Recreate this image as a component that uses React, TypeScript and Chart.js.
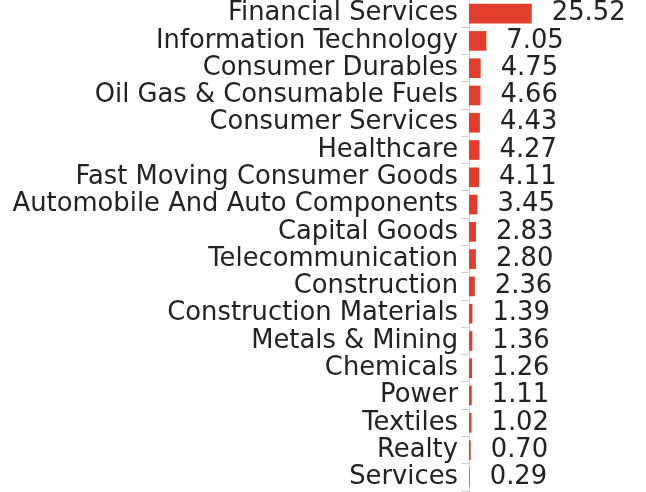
import React, { useEffect, useRef } from "react";
import { Chart, registerables } from "chart.js";

Chart.register(...registerables);

const categories = [
  "Financial Services",
  "Information Technology",
  "Consumer Durables",
  "Oil Gas & Consumable Fuels",
  "Consumer Services",
  "Healthcare",
  "Fast Moving Consumer Goods",
  "Automobile And Auto Components",
  "Capital Goods",
  "Telecommunication",
  "Construction",
  "Construction Materials",
  "Metals & Mining",
  "Chemicals",
  "Power",
  "Textiles",
  "Realty",
  "Services",
];

const values = [
  25.52, 7.05, 4.75, 4.66, 4.43, 4.27, 4.11, 3.45, 2.83, 2.8, 2.36, 1.39, 1.36,
  1.26, 1.11, 1.02, 0.7, 0.29,
];

const FONT = "'DejaVu Sans', sans-serif";
const FONT_SIZE = 25.8;
const FONT_WEIGHT = "normal";

const valueLabels = {
  id: "valueLabels",
  afterDatasetsDraw(chart: any) {
    const ctx = chart.ctx;
    const meta = chart.getDatasetMeta(0);
    ctx.save();
    ctx.font = `${FONT_WEIGHT} ${FONT_SIZE}px ${FONT}`;
    ctx.fillStyle = "#222";
    ctx.textAlign = "left";
    ctx.textBaseline = "middle";
    meta.data.forEach((bar: any, i: number) => {
      ctx.fillText(values[i].toFixed(2), bar.x + 20, bar.y);
    });
    ctx.restore();
  },
};

export default function App() {
  const ref = useRef<HTMLCanvasElement>(null);
  useEffect(() => {
    if (!ref.current) return;
    const chart = new Chart(ref.current, {
      type: "bar",
      data: {
        labels: categories,
        datasets: [
          {
            data: values,
            backgroundColor: "#E23D2C",
          },
        ],
      },
      options: {
        indexAxis: "y",
        animation: false,
        responsive: false,
        layout: { padding: { top: 0, bottom: 1, right: 0, left: 0 } },
        plugins: {
          legend: { display: false },
          tooltip: { enabled: false },
        },
        scales: {
          x: { display: false, min: 0, max: 72 },
          y: {
            afterFit: (scale: any) => {
              scale.width = 469;
              scale.paddingTop = 0;
              scale.paddingBottom = 0;
            },
            grid: {
              display: true,
              drawOnChartArea: false,
              drawTicks: true,
              tickLength: 8,
              color: "#d0d0d0",
            },
            border: { display: true, color: "#d0d0d0" },
            ticks: {
              color: "#222",
              font: { family: FONT, size: FONT_SIZE, weight: FONT_WEIGHT },
              padding: 3,
              autoSkip: false,
            },
          },
        },
      },
      plugins: [valueLabels],
    });
    return () => chart.destroy();
  }, []);
  return (
    <div style={{ position: "fixed", left: 0, top: 0, width: 646, height: 492 }}>
      <canvas ref={ref} width={646} height={492} />
    </div>
  );
}
